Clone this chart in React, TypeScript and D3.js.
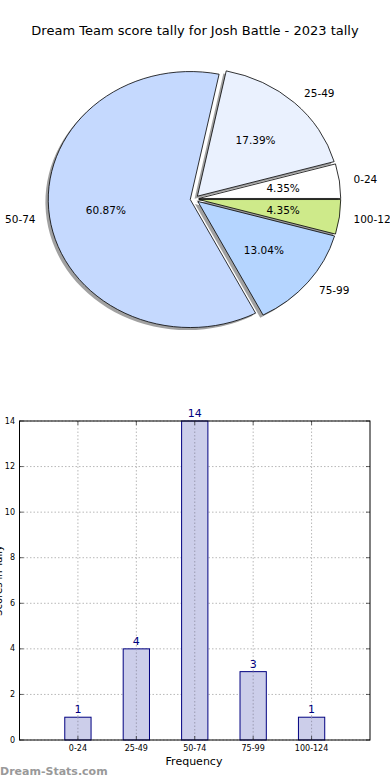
import React from 'react'
import * as d3 from 'd3'

const categories = ['0-24', '25-49', '50-74', '75-99', '100-124']
const counts = [1, 4, 14, 3, 1]
const pieColors = ['#ffffff', '#eaf1fe', '#c5d9fe', '#b5d5ff', '#ceea8a']
const yTicks = [0, 2, 4, 6, 8, 10, 12, 14]

const title = 'Dream Team score tally for Josh Battle - 2023 tally'

function App() {
  const width = 390
  const height = 780
  const font = 'DejaVu Sans, sans-serif'

  // pie: elliptical, like an old matplotlib pie without equal aspect
  const cx = 194.5
  const cy = 199
  const rx = 142
  const ry = 128
  const explode = 0.03
  const total = d3.sum(counts)

  const pie = d3
    .pie<number>()
    .sort(null)
    .startAngle(Math.PI / 2)
    .endAngle(Math.PI / 2 - 2 * Math.PI)
  const arcs = pie(counts)
  const arc = d3.arc<d3.PieArcDatum<number>>().innerRadius(0).outerRadius(1)

  const slices = arcs.map((a, i) => {
    const mid = (a.startAngle + a.endAngle) / 2
    const ux = Math.sin(mid)
    const uy = -Math.cos(mid)
    const ox = cx + explode * rx * ux
    const oy = cy + explode * ry * uy
    return {
      a,
      i,
      ox,
      oy,
      ux,
      uy,
      pct: ((counts[i] / total) * 100).toFixed(2) + '%',
    }
  })

  // bar chart
  const plot = { left: 19.5, right: 370, top: 421, bottom: 740 }
  const xScale = d3.scaleLinear().domain([-1, 5]).range([plot.left, plot.right])
  const yScale = d3.scaleLinear().domain([0, 14]).range([plot.bottom, plot.top])
  const barW = xScale(0.45) - xScale(0)

  return (
    <svg
      width={width}
      height={height}
      style={{ position: 'absolute', left: 0, top: 0, background: '#fff' }}
      fontFamily={font}
    >
      <rect width={width} height={height} fill="#fff" />
      <text x={195} y={35} textAnchor="middle" fontSize={13} fill="#000">
        {title}
      </text>

      {/* shadows behind every wedge */}
      {slices.map(s => (
        <path
          key={'sh' + s.i}
          d={arc(s.a) || ''}
          transform={`translate(${s.ox - 0.02 * rx} ${s.oy + 0.02 * ry}) scale(${rx} ${ry})`}
          fill="#444"
          opacity={0.5}
        />
      ))}
      {slices.map(s => (
        <path
          key={'w' + s.i}
          d={arc(s.a) || ''}
          transform={`translate(${s.ox} ${s.oy}) scale(${rx} ${ry})`}
          fill={pieColors[s.i]}
          stroke="#000"
          strokeWidth={0.8}
          vectorEffect="non-scaling-stroke"
          strokeLinejoin="round"
        />
      ))}
      {slices.map(s => (
        <g key={'t' + s.i} fontSize={10.5} fill="#000">
          <text
            x={s.ox + 0.6 * rx * s.ux}
            y={s.oy + 0.6 * ry * s.uy}
            textAnchor="middle"
            dominantBaseline="central"
          >
            {s.pct}
          </text>
          <text
            x={s.ox + 1.1 * rx * s.ux}
            y={s.oy + 1.1 * ry * s.uy}
            textAnchor={s.ux > 0 ? 'start' : 'end'}
            dominantBaseline="central"
          >
            {categories[s.i]}
          </text>
        </g>
      ))}

      {/* bar chart grid */}
      {yTicks.map(t => (
        <g key={'gy' + t}>
          <line
            x1={plot.left}
            x2={plot.right}
            y1={yScale(t)}
            y2={yScale(t)}
            stroke="#b8b8b8"
            strokeDasharray="1.5 2"
          />
          <line x1={plot.left} x2={plot.left + 4} y1={yScale(t)} y2={yScale(t)} stroke="#000" strokeWidth={0.6} />
          <line x1={plot.right - 4} x2={plot.right} y1={yScale(t)} y2={yScale(t)} stroke="#000" strokeWidth={0.6} />
          <text x={15} y={yScale(t)} textAnchor="end" dominantBaseline="central" fontSize={8} fill="#000">
            {t}
          </text>
        </g>
      ))}
      {categories.map((c, i) => (
        <g key={'gx' + c}>
          <line
            x1={xScale(i)}
            x2={xScale(i)}
            y1={plot.top}
            y2={plot.bottom}
            stroke="#b8b8b8"
            strokeDasharray="1.5 2"
          />
        </g>
      ))}

      {/* bars */}
      {counts.map((v, i) => (
        <g key={'b' + i}>
          <rect
            x={xScale(i) - barW / 2}
            y={yScale(v)}
            width={barW}
            height={yScale(0) - yScale(v)}
            fill="#ccceea"
            stroke="#000080"
            strokeWidth={1}
          />
          <line
            x1={xScale(i)}
            x2={xScale(i)}
            y1={yScale(v)}
            y2={plot.bottom}
            stroke="#9a9ab0"
            strokeDasharray="1.5 2"
          />
          <text x={xScale(i)} y={yScale(v) - 4} textAnchor="middle" fontSize={11} fill="#000080">
            {v}
          </text>
          <text x={xScale(i)} y={748} textAnchor="middle" dominantBaseline="central" fontSize={8} fill="#000">
            {categories[i]}
          </text>
          <line x1={xScale(i)} x2={xScale(i)} y1={plot.bottom} y2={plot.bottom - 4} stroke="#000" strokeWidth={0.6} />
          <line x1={xScale(i)} x2={xScale(i)} y1={plot.top} y2={plot.top + 4} stroke="#000" strokeWidth={0.6} />
        </g>
      ))}

      <rect
        x={plot.left}
        y={plot.top}
        width={plot.right - plot.left}
        height={plot.bottom - plot.top}
        fill="none"
        stroke="#000"
        strokeWidth={1}
      />

      <text x={194} y={761} textAnchor="middle" dominantBaseline="central" fontSize={11} fill="#000">
        Frequency
      </text>
      <text
        transform={`translate(2 ${(plot.top + plot.bottom) / 2}) rotate(-90)`}
        textAnchor="middle"
        fontSize={10}
        fill="#000"
      >
        Scores in Tally
      </text>

      <text x={0} y={775} fontSize={11} fontWeight="bold" fill="#999">
        Dream-Stats.com
      </text>
    </svg>
  )
}

export default App
